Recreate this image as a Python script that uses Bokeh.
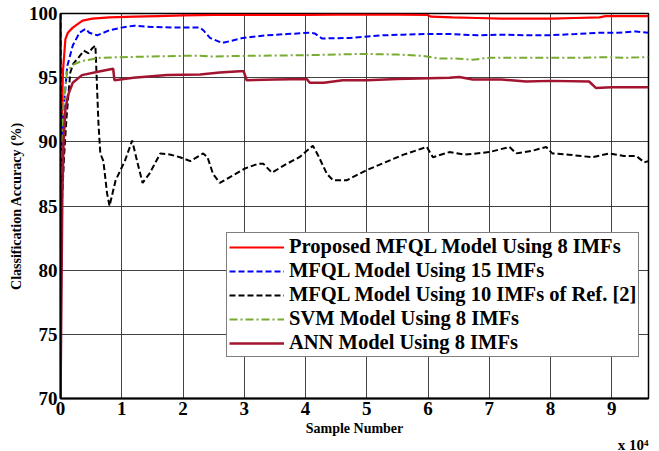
from bokeh.plotting import figure
from bokeh.models import FixedTicker, Range1d, Legend, LegendItem, Title
from bokeh.embed import file_html
from bokeh.resources import INLINE

FONT = "Liberation Serif"

# ---- data (sample number, accuracy %) ----
red_x = [0, 150, 400, 800, 1200, 2000, 3600, 5200, 8000, 12000, 16000, 20000, 25000, 30000, 35000,
         40000, 45000, 50000, 55000, 59800, 60500, 64000, 68000, 72000, 76000, 80000, 84000, 88000,
         89000, 92000, 96000]
red_y = [70, 90, 95.5, 98.0, 98.5, 98.9, 99.45, 99.6, 99.7, 99.75, 99.8, 99.85, 99.9, 99.9, 99.9,
         99.9, 99.92, 99.92, 99.92, 99.9, 99.75, 99.7, 99.65, 99.6, 99.6, 99.6, 99.65, 99.7,
         99.8, 99.8, 99.8]

blue_x = [0, 200, 500, 1100, 2000, 3100, 4100, 4700, 6000, 8000, 10000, 12000, 15000, 19500, 22800,
          23300, 24400, 26400, 29800, 33700, 37000, 40700, 41500, 42700, 47200, 52600, 56000, 59800,
          63500, 68100, 72000, 76000, 79800, 84000, 87900, 91000, 94000, 96000]
blue_y = [70, 88, 92.5, 95.9, 97.5, 98.5, 98.8, 98.5, 98.3, 98.7, 98.9, 99.05, 98.95, 98.9, 98.9,
          98.7, 98.1, 97.7, 98.1, 98.3, 98.4, 98.5, 98.45, 98.05, 98.1, 98.3, 98.35, 98.4,
          98.4, 98.3, 98.35, 98.3, 98.3, 98.4, 98.5, 98.5, 98.6, 98.5]

black_x = [0, 100, 300, 600, 1000, 1600, 2100, 3000, 3800, 4600, 5200, 5700, 6200, 6500, 7000, 7600,
           8000, 9000, 10500, 11700, 12500, 13400, 14500, 16300, 18000, 19500, 21200, 23300, 24000,
           24900, 26000, 28200, 30000, 32300, 33100, 34500, 37000, 39000, 41200, 42000, 43500, 44500,
           46700, 50000, 53000, 56000, 59800, 60800, 63500, 66000, 70000, 73300, 74400, 77000, 79300,
           80300, 83000, 86800, 89600, 92000, 94000, 95300, 96000]
black_y = [100, 84, 86, 89, 92, 95.4, 96.1, 96.6, 97.1, 96.9, 97.3, 97.5, 91.4, 89.1, 88.5, 86.0,
           85.0, 87.0, 88.5, 90.1, 88.5, 86.8, 87.5, 89.1, 89.0, 88.8, 88.5, 89.1, 88.8,
           87.5, 86.8, 87.4, 87.9, 88.3, 88.3, 87.6, 88.3, 88.8, 89.7, 89.0, 87.5, 87.0,
           87.0, 87.8, 88.4, 89.0, 89.6, 88.8, 89.2, 89.0, 89.2, 89.6, 89.1, 89.3, 89.6,
           89.1, 89.0, 88.8, 89.1, 88.9, 88.9, 88.4, 88.5]

green_x = [0, 200, 500, 1100, 2000, 3500, 6500, 10000, 15000, 20000, 22800, 24400, 30000, 40000, 49400,
           55000, 59100, 61900, 64000, 67300, 70000, 75000, 80000, 85000, 89600, 92000, 96000]
green_y = [70, 89, 93, 95.5, 96.0, 96.3, 96.55, 96.6, 96.65, 96.7, 96.7, 96.65, 96.7, 96.75, 96.85,
           96.8, 96.7, 96.5, 96.5, 96.4, 96.55, 96.55, 96.55, 96.55, 96.6, 96.55, 96.6]

ann_x = [0, 300, 500, 800, 1200, 2000, 3500, 6500, 8600, 8800, 11900, 17400, 22800, 26000, 29300,
         29900, 30400, 35000, 40200, 40700, 43000, 46100, 50000, 55000, 63500, 65100, 67300, 72000,
         76000, 80000, 86300, 87400, 90000, 96000]
ann_y = [70, 86, 90, 92.5, 93.6, 94.6, 95.2, 95.5, 95.7, 94.8, 95.0, 95.2, 95.25, 95.4, 95.5,
         95.5, 94.8, 94.85, 94.9, 94.6, 94.6, 94.8, 94.8, 94.9, 95.0, 95.05, 94.85, 94.85,
         94.7, 94.75, 94.7, 94.2, 94.25, 94.25]

labels = ["Proposed MFQL Model Using 8 IMFs", "MFQL Model Using 15 IMFs",
          "MFQL Model Using 10 IMFs of Ref. [2]", "SVM Model Using 8 IMFs", "ANN Model Using 8 IMFs"]

x_ticks = [0, 10000, 20000, 30000, 40000, 50000, 60000, 70000, 80000, 90000]
x_tick_labels = ["0", "1", "2", "3", "4", "5", "6", "7", "8", "9"]
y_ticks = [70, 75, 80, 85, 90, 95, 100]
x_scale_note = "x 10\u2074"

p = figure(width=659, height=451, output_backend="svg", toolbar_location=None,
           x_range=Range1d(0, 96000), y_range=Range1d(70, 100),
           min_border_left=60, min_border_right=11, min_border_top=13, min_border_bottom=53)
p.background_fill_color = "white"
p.border_fill_color = "white"
p.outline_line_color = "black"
p.outline_line_width = 1.5

for ax in (p.xaxis[0], p.yaxis[0]):
    ax.axis_line_width = 2
    ax.axis_line_color = "black"
    ax.major_tick_out = 0
    ax.major_tick_in = 0
    ax.minor_tick_out = 0
    ax.minor_tick_in = 0
    ax.major_label_text_font = FONT
    ax.major_label_text_font_style = "bold"
    ax.major_label_text_font_size = "19px"
    ax.major_label_text_color = "black"
    ax.axis_label_text_font = FONT
    ax.axis_label_text_font_style = "bold"
    ax.axis_label_text_font_size = "14px"
    ax.axis_label_text_color = "black"

p.xaxis.ticker = FixedTicker(ticks=x_ticks)
p.xaxis.major_label_overrides = {t: l for t, l in zip(x_ticks, x_tick_labels)}
p.yaxis.ticker = FixedTicker(ticks=y_ticks)
p.xaxis.axis_label = "Sample Number"
p.yaxis.axis_label = "Classification Accuracy (%)"
p.xaxis.major_label_standoff = 3
p.yaxis.major_label_standoff = 3
p.xaxis.axis_label_standoff = 3
p.yaxis.axis_label_standoff = 2

p.grid.grid_line_color = "#222222"
p.grid.grid_line_width = 1
p.grid.grid_line_alpha = 0.85

r1 = p.line(red_x, red_y, line_color="#ff0000", line_width=2.2)
r2 = p.line(blue_x, blue_y, line_color="#0000ff", line_width=2, line_dash="6 3")
r3 = p.line(black_x, black_y, line_color="black", line_width=2, line_dash="6 3")
r4 = p.line(green_x, green_y, line_color="#77ac30", line_width=2, line_dash="8 3 2 3")
r5 = p.line(ann_x, ann_y, line_color="#a2142f", line_width=2.5)

legend = Legend(items=[LegendItem(label=l, renderers=[r]) for l, r in zip(labels, [r1, r2, r3, r4, r5])],
                location=(166, 41))
legend.label_text_font = FONT
legend.label_text_font_style = "bold"
legend.label_text_font_size = "20.5px"
legend.label_text_color = "black"
legend.border_line_color = "black"
legend.border_line_width = 1.5
legend.background_fill_color = "white"
legend.background_fill_alpha = 1
legend.padding = 2
legend.spacing = 1
legend.margin = 0
legend.label_height = 22
legend.glyph_height = 22
legend.glyph_width = 55
legend.label_standoff = 5
p.add_layout(legend, "center")

note = Title(text=x_scale_note, align="right", text_font=FONT, text_font_style="bold",
             text_font_size="15px", text_color="black", standoff=-8, offset=0)
p.add_layout(note, "below")

open("out.html", "w").write(file_html(p, INLINE))
